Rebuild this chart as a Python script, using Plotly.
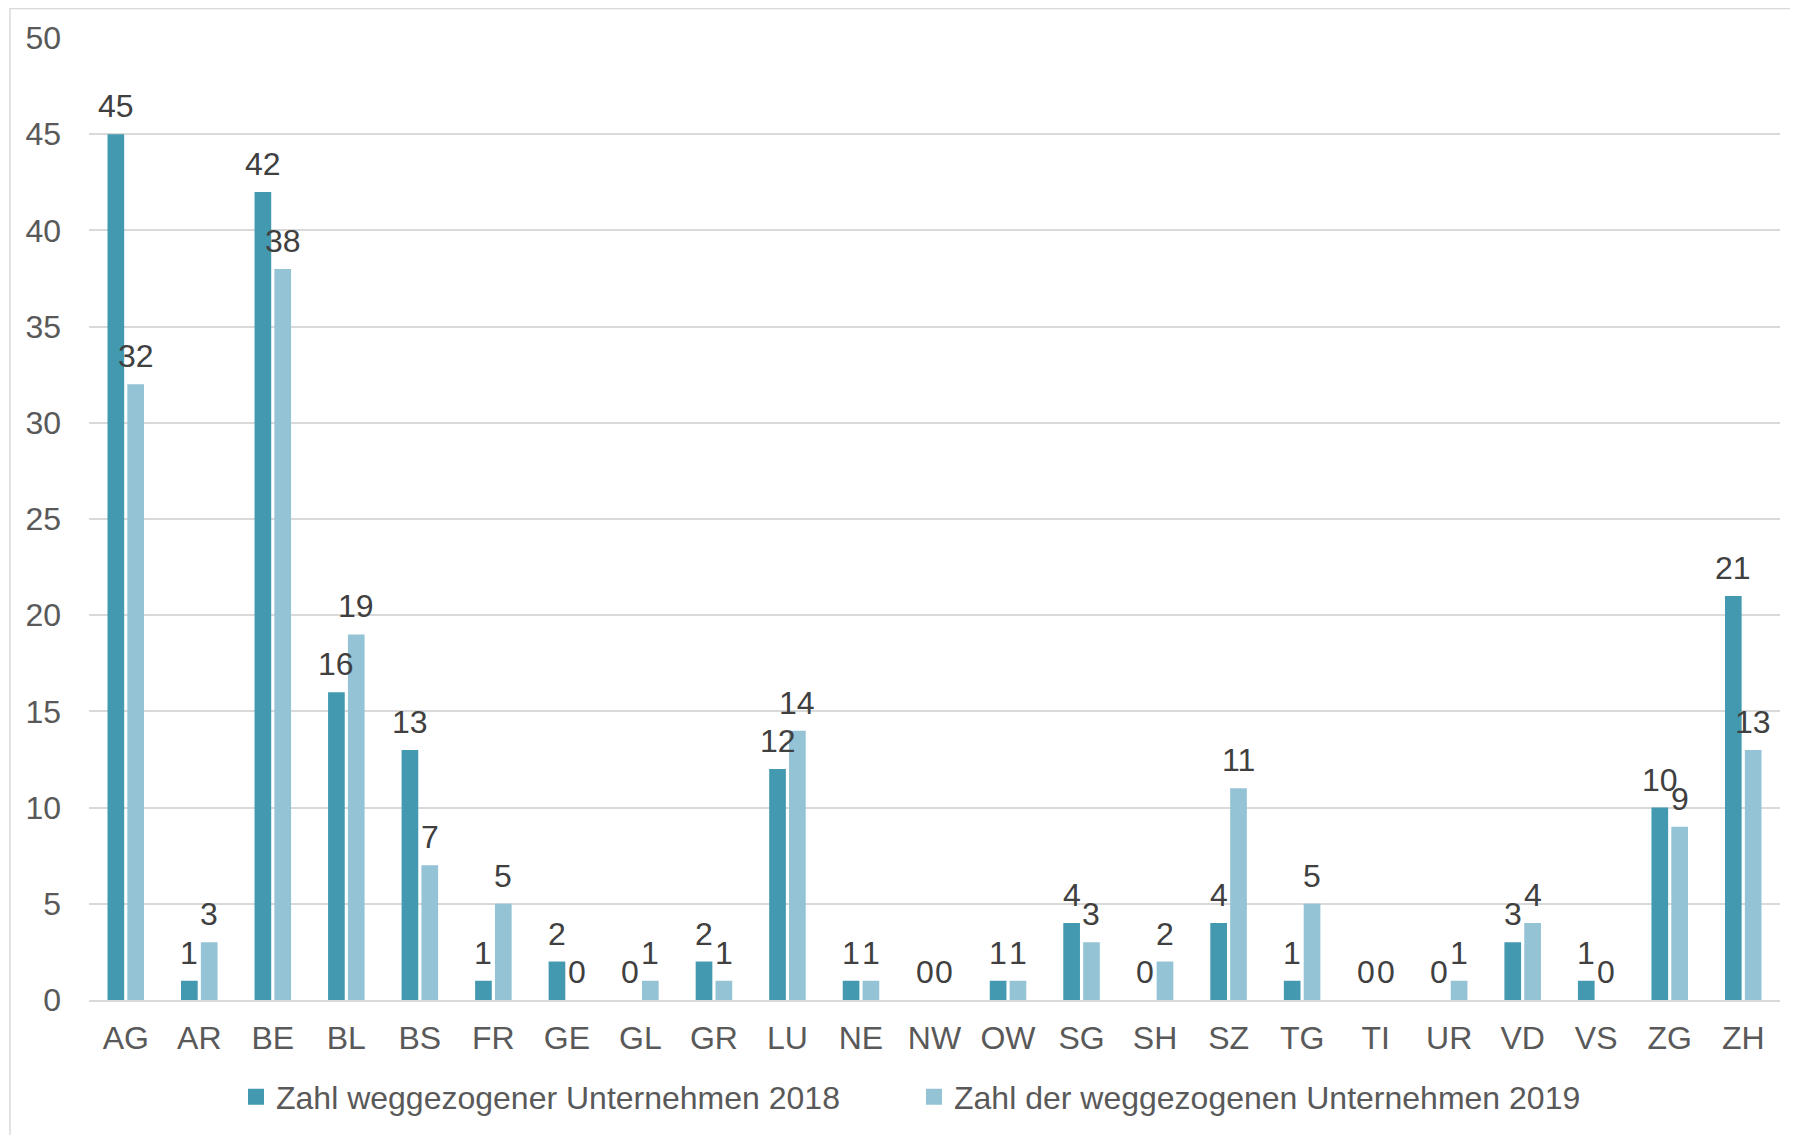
import plotly.graph_objects as go

categories = ["AG", "AR", "BE", "BL", "BS", "FR", "GE", "GL", "GR", "LU", "NE", "NW",
              "OW", "SG", "SH", "SZ", "TG", "TI", "UR", "VD", "VS", "ZG", "ZH"]
values_2018 = [45, 1, 42, 16, 13, 1, 2, 0, 2, 12, 1, 0, 1, 4, 0, 4, 1, 0, 0, 3, 1, 10, 21]
values_2019 = [32, 3, 38, 19, 7, 5, 0, 1, 1, 14, 1, 0, 1, 3, 2, 11, 5, 0, 1, 4, 0, 9, 13]
name_2018 = "Zahl weggezogener Unternehmen 2018"
name_2019 = "Zahl der weggezogenen Unternehmen 2019"
y_ticks = [0, 5, 10, 15, 20, 25, 30, 35, 40, 45, 50]

DARK = "#4399B0"
LIGHT = "#93C3D5"
FONT = "Liberation Sans, Arial, sans-serif"
FS = 32

W, H = 1798, 1135
ML, MR, MT, MB = 81, 26, 30, 143
BARGAP, GROUPGAP = 0.46, 0.16

fig = go.Figure()
fig.add_trace(go.Bar(x=categories, y=values_2018, name=name_2018, showlegend=False,
                     marker=dict(color=DARK, line=dict(width=0))))
fig.add_trace(go.Bar(x=categories, y=values_2019, name=name_2019, showlegend=False,
                     marker=dict(color=LIGHT, line=dict(width=0))))
# legend entries with larger square swatches
fig.add_trace(go.Scatter(x=[None], y=[None], mode="markers", name=name_2018, legend="legend",
                         marker=dict(symbol="square", size=16, color=DARK, line=dict(width=0))))
fig.add_trace(go.Scatter(x=[None], y=[None], mode="markers", name=name_2019, legend="legend2",
                         marker=dict(symbol="square", size=16, color=LIGHT, line=dict(width=0))))

# data labels above each bar
plot_w = W - ML - MR
plot_h = H - MT - MB
cat_w = plot_w / len(categories)
offset = (1 - BARGAP) * cat_w / 4
annotations = []
for cat, v1, v2 in zip(categories, values_2018, values_2019):
    for v, sh in ((v1, -offset), (v2, offset)):
        annotations.append(dict(x=cat, y=v, xref="x", yref="y", text=str(v),
                                showarrow=False, xshift=sh, yshift=8,
                                yanchor="bottom", xanchor="center",
                                font=dict(family=FONT, size=FS, color="#404040")))

# outer chart border
shapes = [dict(type="rect", xref="paper", yref="paper",
               x0=(2 - ML) / plot_w, x1=(W + 20 - ML) / plot_w,
               y0=-(MB + 20) / plot_h, y1=1 + (MT - 0.5) / plot_h,
               line=dict(color="#D9D9D9", width=1.5), fillcolor="rgba(0,0,0,0)", layer="below")]

legend_common = dict(orientation="h", xref="container", yref="container",
                     xanchor="left", yanchor="middle", y=1 - 1089 / H,
                     font=dict(family=FONT, size=FS, color="#595959"),
                     itemwidth=30, itemclick=False, bgcolor="rgba(0,0,0,0)",
                     borderwidth=0)

fig.update_layout(
    width=W, height=H,
    margin=dict(l=ML, r=MR, t=MT, b=MB, pad=0),
    paper_bgcolor="white", plot_bgcolor="white",
    barmode="group", bargap=BARGAP, bargroupgap=GROUPGAP,
    font=dict(family=FONT, size=FS, color="#595959"),
    showlegend=True,
    legend=dict(x=228 / W, **legend_common),
    legend2=dict(x=906 / W, **legend_common),
    annotations=annotations,
    shapes=shapes,
)
fig.update_xaxes(showgrid=False, showline=True, linecolor="#D9D9D9", linewidth=2,
                 ticks="", tickfont=dict(size=FS, color="#595959"), ticklabelstandoff=9)
fig.update_yaxes(range=[0, 50], tickvals=y_ticks, showgrid=True, gridcolor="#D9D9D9",
                 gridwidth=1.5, zeroline=False, showline=False, ticks="",
                 tickfont=dict(size=FS, color="#595959"), ticklabelstandoff=27)

fig.write_html("out.html")
